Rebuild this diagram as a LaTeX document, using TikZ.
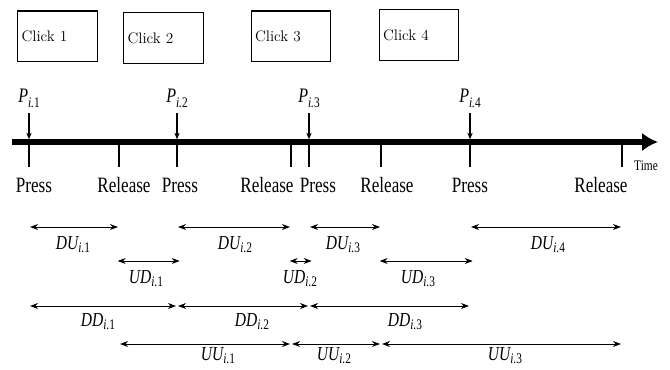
\documentclass[tikz,border=0pt]{standalone}
\usepackage{fontspec}
\newfontfamily\tnr[FakeStretch=0.78]{Liberation Serif}
\usetikzlibrary{arrows.meta, positioning}

% label with subscript i.n
\newcommand{\isub}[2]{#1\raisebox{-0.2em}{\fontsize{11}{11}\selectfont\textit{i}.\upshape #2}}

\begin{document}
\begin{tikzpicture}[x=0.0265cm, y=-0.0265cm,
    click/.style={draw, line width=0.8pt, text width=1.9cm, inner xsep=3pt,
        minimum height=1.35cm, align=left, font=\fontsize{11.5}{13}\selectfont},
    axis/.style={line width=4pt, -{Latex[length=12pt, width=14pt]}},
    tck/.style={line width=1.4pt},
    pin/.style={line width=1pt, -{Stealth[length=5pt, width=4pt]}},
    ivl/.style={line width=0.6pt, shorten <=0.8pt, shorten >=0.8pt,
        {Stealth[length=6pt, width=4.5pt]}-{Stealth[length=6pt, width=4.5pt]}},
    evt/.style={anchor=base, inner sep=0pt, font=\tnr\fontsize{16.5}{18}\selectfont},
    lbl/.style={anchor=base, inner sep=0pt, font=\tnr\itshape\fontsize{15}{17}\selectfont}
]
\useasboundingbox (0,0) rectangle (670,370);

% ---- Click boxes ----
\node[click] (c1) at (57.5,36.5) {Click 1};
\node[click] (c2) at (163.5,38)  {Click 2};
\node[click] (c3) at (291,36.5)  {Click 3};
\node[click] (c4) at (419,35)    {Click 4};

% ---- Time axis ----
\coordinate (t0) at (12,142);
\coordinate (t1) at (658,142);
\draw[axis] (t0) -- (t1);
\node[anchor=base, inner sep=0pt, font=\tnr\fontsize{11}{12}\selectfont] (tm) at (646,170) {Time};

% press / release instants
\foreach \n/\x in {1/29, 2/177, 3/309, 4/470}
    \coordinate (pr\n) at (\x,142);
\foreach \n/\x in {1/119, 2/291, 3/381, 4/622}
    \coordinate (rl\n) at (\x,142);
\coordinate (tb) at (0,167);

\foreach \n in {1,...,4} {
    \draw[tck] (pr\n) -- (pr\n |- tb);
    \draw[tck] (rl\n) -- (rl\n |- tb);
}

% ---- P labels and arrows ----
\foreach \n/\x in {1/29, 2/177, 3/309, 4/470} {
    \node[lbl, font=\tnr\itshape\fontsize{15.5}{17}\selectfont] (pl\n) at (\x,103) {\isub{P}{\n}};
    \draw[pin, shorten <=4pt] (pl\n.south) -- ([yshift=2pt]pr\n);
}

% ---- Press / Release labels ----
\foreach \n/\x in {1/34, 2/180, 3/318, 4/470}
    \node[evt] (pt\n) at (\x,192) {Press};
\foreach \n/\x in {1/124, 2/267, 3/387, 4/601}
    \node[evt] (rt\n) at (\x,192) {Release};

% ---- Interval rows ----
\coordinate (du) at (0,227);
\coordinate (ud) at (0,261);
\coordinate (dd) at (0,306);
\coordinate (uu) at (0,344);

% down-up
\foreach \n in {1,...,4}
    \draw[ivl] (pr\n |- du) -- (rl\n |- du);
\foreach \n/\x in {1/73, 2/235, 3/343, 4/548}
    \node[lbl] (dul\n) at (\x,249) {\isub{DU}{\n}};

% up-down
\foreach \a/\b in {1/2, 2/3, 3/4}
    \draw[ivl, shorten <=-1pt, shorten >=-2pt] (rl\a |- ud) -- (pr\b |- ud);
\foreach \n/\x in {1/146, 2/300, 3/418}
    \node[lbl] (udl\n) at (\x,283) {\isub{UD}{\n}};

% down-down
\foreach \a/\b in {1/2, 2/3, 3/4}
    \draw[ivl] (pr\a |- dd) -- (pr\b |- dd);
\foreach \n/\x in {1/98, 2/252, 3/405}
    \node[lbl] (ddl\n) at (\x,326) {\isub{DD}{\n}};

% up-up
\foreach \a/\b in {1/2, 2/3, 3/4}
    \draw[ivl] (rl\a |- uu) -- (rl\b |- uu);
\foreach \n/\x in {1/218, 2/334, 3/505}
    \node[lbl] (uul\n) at (\x,360) {\isub{UU}{\n}};

\end{tikzpicture}
\end{document}
